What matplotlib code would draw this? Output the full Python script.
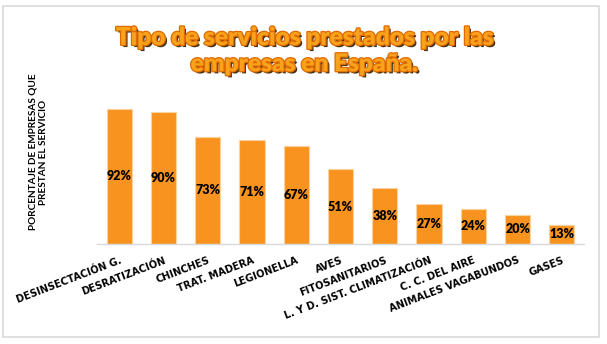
import matplotlib
matplotlib.use('Agg')
import matplotlib.pyplot as plt
import matplotlib.patheffects as pe
from matplotlib.patches import Rectangle

servicios = ['DESINSECTACIÓN G.', 'DESRATIZACIÓN', 'CHINCHES', 'TRAT. MADERA',
             'LEGIONELLA', 'AVES', 'FITOSANITARIOS', 'L. Y D. SIST. CLIMATIZACIÓN',
             'C. C. DEL AIRE', 'ANIMALES VAGABUNDOS', 'GASES']
porcentajes = [92, 90, 73, 71, 67, 51, 38, 27, 24, 20, 13]

naranja = '#F7931E'

fig = plt.figure(figsize=(6.07, 3.44), dpi=100)
fig.patch.set_facecolor('white')

# marco gris del gráfico
fig.patches.append(Rectangle((3 / 607, 1 - 337 / 344), 596 / 607, 331 / 344,
                             transform=fig.transFigure, fill=False,
                             edgecolor='#D9D9D9', linewidth=1.2))

ax = fig.add_axes([97 / 607, 1 - 244 / 344, 487 / 607, 147 / 344])
x = range(len(servicios))
barras = ax.bar(x, porcentajes, width=0.57, color=naranja,
                edgecolor='#FCD3A0', linewidth=0.8)

for b, v in zip(barras, porcentajes):
    ax.text(b.get_x() + b.get_width() / 2, v / 2, '{}%'.format(v),
            ha='center', va='center', fontsize=9, fontweight='heavy',
            family='Lato', color='black')

ax.set_xlim(-0.5, len(servicios) - 0.5)
ax.set_ylim(0, 100)
ax.set_yticks([])
for s in ['top', 'right', 'left']:
    ax.spines[s].set_visible(False)
ax.spines['bottom'].set_color('#D9D9D9')
ax.spines['bottom'].set_linewidth(1)

ax.set_xticks(list(x))
ax.set_xticklabels(servicios, rotation=21, ha='right', rotation_mode='anchor',
                   fontsize=7.1, fontweight='bold', family='DejaVu Sans')
ax.tick_params(axis='x', length=0, pad=8)

fig.text(38 / 607, 1 - 152 / 344,
         'PORCENTAJE DE EMPRESAS QUE\nPRESTAN EL SERVICIO',
         rotation=90, ha='center', va='center', multialignment='center',
         fontsize=7.2, fontweight='bold', family='Lato', linespacing=1.25)

titulo = fig.text(0.5, 1 - 51 / 344,
                  'Tipo de servicios prestados por las\nempresas en España.',
                  ha='center', va='center', fontsize=17.6, fontweight='heavy',
                  family='Lato', color='#F9A21B', linespacing=1.24)
titulo.set_path_effects([
    pe.SimplePatchShadow(offset=(1.6, -1.6), shadow_rgbFace='#2B1A00', alpha=0.9),
    pe.Stroke(linewidth=1.8, foreground='#E06A00'),
    pe.Normal(),
])

fig.savefig('out.png', dpi=100)
